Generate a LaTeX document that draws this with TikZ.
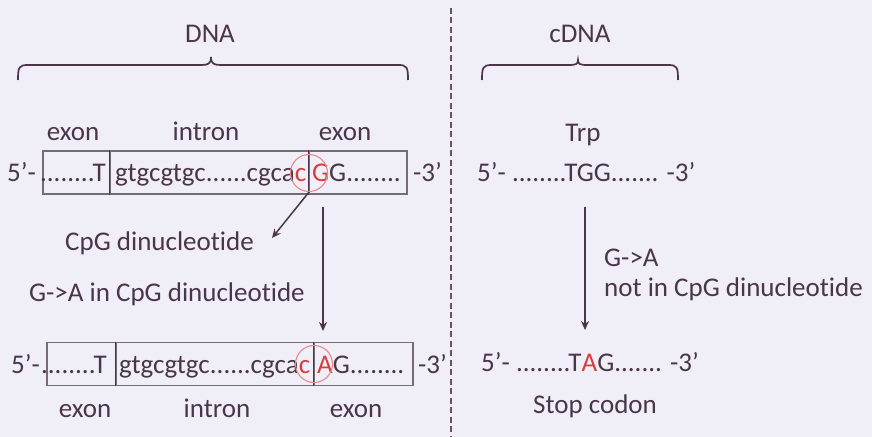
\documentclass[tikz,border=0pt]{standalone}
\usepackage{fontspec}
\setmainfont{Carlito}[Ligatures=NoCommon]
\usetikzlibrary{arrows.meta}
\definecolor{bg}{HTML}{F0EFF7}
\definecolor{ink}{HTML}{4A3646}
\definecolor{mut}{HTML}{D63D3C}
\definecolor{ring}{HTML}{E8898A}
\definecolor{frame}{HTML}{756B73}
\begin{document}
\begin{tikzpicture}[x=1bp,y=-1bp,
  every node/.style={text=ink, inner sep=0pt, font=\fontsize{27bp}{32bp}\selectfont},
  lbl/.style={anchor=base},
  lblw/.style={anchor=base west},
  lble/.style={anchor=base east},
  cell/.style={draw=frame, line width=1.3bp, rectangle, minimum height=43bp},
  ring/.style={draw=ring, line width=1.1bp, circle, minimum size=37bp},
  brace/.style={draw=ink, line width=1.7bp},
  arr/.style={draw=ink, line width=1.5bp, -{Stealth[length=9bp,width=8bp]}},
  divider/.style={draw=ink!85, line width=2.2bp, dash pattern=on 6bp off 3.5bp}]
\fill[bg] (0,0) rectangle (872,437);
\useasboundingbox (0,0) rectangle (872,437);

% section titles and braces
\node[lbl] (tDNA) at (210,43) {DNA};
\node[lbl] (tcDNA) at (580,43) {cDNA};
\draw[brace] (18,80) .. controls (18,67) and (19,65) .. (28,65) -- (201,65)
  .. controls (208,65) and (211,64) .. (211,57)
  .. controls (211,64) and (214,65) .. (221,65) -- (398,65)
  .. controls (407,65) and (408,67) .. (408,80);
\draw[brace] (482,80) .. controls (482,67) and (483,65) .. (492,65) -- (569,65)
  .. controls (576,65) and (578,64) .. (578,60)
  .. controls (578,64) and (580,65) .. (587,65) -- (668,65)
  .. controls (677,65) and (678,67) .. (678,80);

% separator between genomic DNA and cDNA
\coordinate (sepTop) at (451,8);
\coordinate (sepBot) at (451,437);
\draw[divider] (sepTop) -- (sepBot);

% genomic DNA, wild type
\node[lbl] (ex1a) at (73,141) {exon};
\node[lbl] (in1a) at (206,141) {intron};
\node[lbl] (ex2a) at (345,141) {exon};
\node[cell, minimum width=67bp] (a1) at (76.5,172.5) {};
\node[cell, minimum width=199bp] (a2) at (209.5,172.5) {};
\node[cell, minimum width=98bp] (a3) at (358,172.5) {};
\draw[ink, line width=1.7bp] (a2.north west) -- (a2.south west);
\draw[ink, line width=1.7bp] (a3.north west) -- (a3.south west);
\node[lble] (p5a) at (36,182) {5’-};
\node[lble] (sa1) at (106,182) {........T};
\node[lblw] (sa2) at (115,182) {gtgcgtgc......cgca\textcolor{mut}{c}};
\node[lblw] (sa3) at (312,182) {\textcolor{mut}{G}G........};
\node[lblw] (p3a) at (413,182) {-3’};
\node[ring] (cga) at (309,173) {};

% mutation labels
\node[lblw] (cpg) at (65,251) {CpG dinucleotide};
\node[lblw] (gaa) at (29,302) {G->A in CpG dinucleotide};
\coordinate (cpgTip) at (272,238);
\draw[arr] (cga.south) -- (cpgTip);
\coordinate (mA) at (323,207);
\coordinate (mB) at (323,331);
\draw[arr] (mA) -- (mB);

% genomic DNA, mutant
\node[cell, minimum width=69bp] (b1) at (81.5,364) {};
\node[cell, minimum width=198bp] (b2) at (215,364) {};
\node[cell, minimum width=99bp] (b3) at (363.5,364) {};
\draw[ink, line width=1.7bp] (b2.north west) -- (b2.south west);
\draw[ink, line width=1.7bp] (b3.north west) -- (b3.south west);
\node[lble] (p5b) at (40,374) {5’-};
\node[lble] (sb1) at (107,374) {........T};
\node[lblw] (sb2) at (119,374) {gtgcgtgc......cgca\textcolor{mut}{c}};
\node[lblw] (sb3) at (317,374) {\textcolor{mut}{A}G........};
\node[lblw] (p3b) at (418,374) {-3’};
\node[ring] (cgb) at (314,364) {};
\node[lbl] (ex1b) at (85,417) {exon};
\node[lbl] (in1b) at (217,417) {intron};
\node[lbl] (ex2b) at (356,417) {exon};

% cDNA, wild type and mutant
\node[lbl] (trp) at (583,142) {Trp};
\node[lblw] (cwt) at (477,182) {5’- ........TGG....... -3’};
\coordinate (cA) at (585,207);
\coordinate (cB) at (585,330);
\draw[arr] (cA) -- (cB);
\node[lblw] (cga1) at (604,267) {G->A};
\node[lblw] (cga2) at (604,297) {not in CpG dinucleotide};
\node[lblw] (cmut) at (481,372) {5’- ........T\textcolor{mut}{A}G....... -3’};
\node[lbl] (stop) at (595,413) {Stop codon};
\end{tikzpicture}
\end{document}
